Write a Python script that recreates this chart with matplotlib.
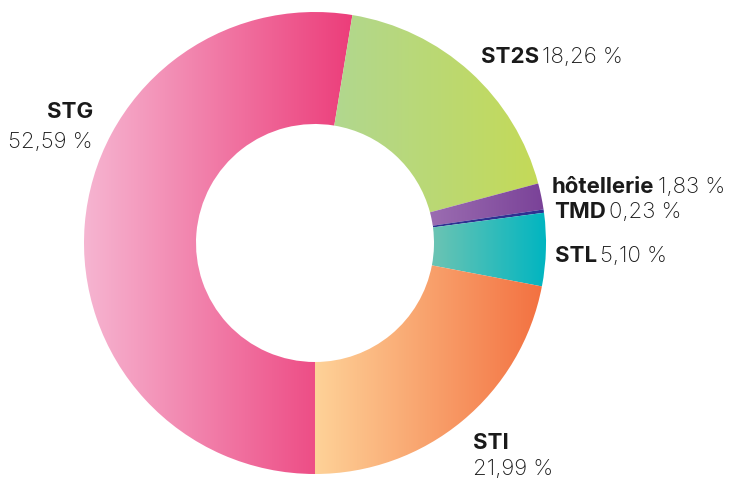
import numpy as np
import matplotlib.pyplot as plt
from matplotlib.colors import LinearSegmentedColormap

plt.rcParams['font.family'] = ['Inter', 'DejaVu Sans']

# données (parts en %)
filieres = ["STG", "ST2S", "hôtellerie", "TMD", "STL", "STI"]
parts = [52.59, 18.26, 1.83, 0.23, 5.10, 21.99]
etiquettes = ["52,59 %", "18,26 %", "1,83 %", "0,23 %", "5,10 %", "21,99 %"]

# dégradés gauche -> droite pour chaque part
couleurs_gauche = ["#f6b5d1", "#b1d78f", "#9b6db1", "#2e3192", "#6cc4b3", "#fed298"]
couleurs_droite = ["#ec3d7a", "#c4da58", "#7a4298", "#2e3192", "#00b5c1", "#f37141"]

W, H = 731, 481
cx, cy = 315, H - 244
r_ext, r_int = 231, 119

fig = plt.figure(figsize=(W / 100, H / 100), dpi=100)
ax = fig.add_axes([0, 0, 1, 1])

wedges, _ = ax.pie(parts, center=(cx, cy), radius=r_ext, startangle=-90,
                   counterclock=False, wedgeprops=dict(width=r_ext - r_int, linewidth=0))

for w, c1, c2 in zip(wedges, couleurs_gauche, couleurs_droite):
    t = np.radians(np.linspace(w.theta1, w.theta2, 200))
    xs = np.concatenate([cx + r_ext * np.cos(t), cx + r_int * np.cos(t)])
    ys = np.concatenate([cy + r_ext * np.sin(t), cy + r_int * np.sin(t)])
    cmap = LinearSegmentedColormap.from_list("g", [c1, c2])
    grad = np.linspace(0, 1, 256).reshape(1, -1)
    im = ax.imshow(grad, cmap=cmap, aspect='auto', interpolation='bicubic',
                   extent=(xs.min(), xs.max(), ys.min() - 1, ys.max() + 1), zorder=2)
    im.set_clip_path(w)
    w.set_facecolor('none')

ax.set_xlim(0, W)
ax.set_ylim(0, H)
ax.set_aspect('auto')
ax.axis('off')

fs = 16
col = "#1a1a1a"

def lab(x, y, nom, val, ha='left'):
    # nom en gras suivi de la valeur sur la même ligne
    t = ax.text(x, H - y, nom, fontsize=fs, fontweight='bold', color=col, ha=ha, va='baseline')
    fig.canvas.draw()
    bb = t.get_window_extent()
    ax.text(bb.x1 + 3, H - y, val, fontsize=fs, fontweight='light', color=col, ha='left', va='baseline')

# STG (deux lignes, aligné à droite)
ax.text(93, H - 118, filieres[0], fontsize=fs, fontweight='bold', color=col, ha='right', va='baseline')
ax.text(93, H - 148, etiquettes[0], fontsize=fs, fontweight='light', color=col, ha='right', va='baseline')

lab(481, 63, filieres[1], etiquettes[1])
lab(552, 193, filieres[2], etiquettes[2])
lab(554, 218, filieres[3], etiquettes[3])
lab(555, 262, filieres[4], etiquettes[4])

# STI (deux lignes)
ax.text(473, H - 449, filieres[5], fontsize=fs, fontweight='bold', color=col, ha='left', va='baseline')
ax.text(473, H - 475, etiquettes[5], fontsize=fs, fontweight='light', color=col, ha='left', va='baseline')

fig.savefig("out.png", dpi=100)
